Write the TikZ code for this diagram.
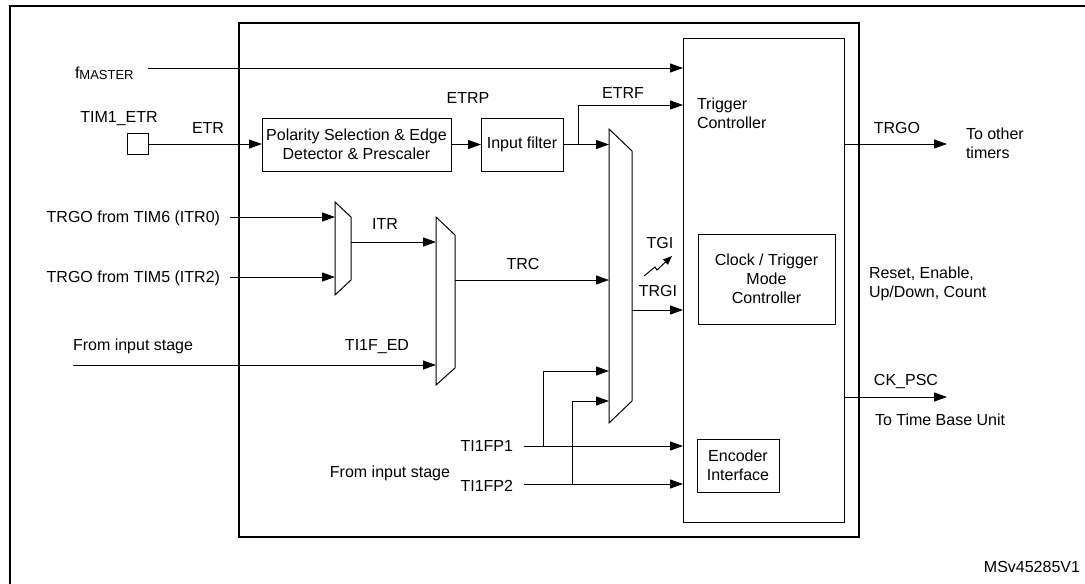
\documentclass[tikz,border=0pt]{standalone}
\usepackage{fontspec}
\setmainfont{Liberation Sans}
\usetikzlibrary{arrows.meta}
\begin{document}
\begin{tikzpicture}[x=1pt,y=-1pt,
  every node/.style={inner sep=0pt, outer sep=0pt, font=\fontsize{16}{19}\selectfont},
  blk/.style={draw, line width=1pt, anchor=north west, align=center},
  lbl/.style={text height=11.5pt, text depth=0pt},
  sig/.style={line width=1pt, -{Triangle[length=13pt,width=9pt]}},
  wire/.style={line width=1pt},
  mux/.style={line width=1pt, line join=miter}]
\useasboundingbox (0,0) rectangle (1085,584);
% frames
\draw[line width=2pt] (10,620) -- (10,6) -- (1120,6);
\draw[line width=1.2pt] (239,23) rectangle (859,537);
% blocks
\node[blk, minimum width=161pt, minimum height=484pt] (tc) at (683,38) {};
\node[anchor=west, align=left] (tctext) at (697,113) {Trigger\\Controller};
\node[blk, minimum width=189pt, minimum height=53pt] (poly) at (262,118) {Polarity Selection \& Edge\\Detector \& Prescaler};
\node[blk, minimum width=82pt, minimum height=53pt] (filt) at (481,118) {Input filter};
\node[blk, minimum width=137pt, minimum height=90pt] (ctm) at (698,234) {Clock / Trigger\\Mode\\Controller};
\node[blk, minimum width=82pt, minimum height=53pt] (enc) at (697,439) {Encoder\\Interface};
\node[draw, line width=1pt, minimum width=21pt, minimum height=21pt] (sq) at (137.5,144) {};
% muxes
\coordinate (m1a) at (335,202); \coordinate (m1b) at (351,217);
\coordinate (m1c) at (351,280); \coordinate (m1d) at (335,295);
\draw[mux] (m1a) -- (m1b) -- (m1c) -- (m1d) -- cycle;
\coordinate (m2a) at (436,217); \coordinate (m2b) at (455,235);
\coordinate (m2c) at (455,368); \coordinate (m2d) at (436,385);
\draw[mux] (m2a) -- (m2b) -- (m2c) -- (m2d) -- cycle;
\coordinate (m3a) at (609,129); \coordinate (m3b) at (632,151);
\coordinate (m3c) at (632,401); \coordinate (m3d) at (609,423);
\draw[mux] (m3a) -- (m3b) -- (m3c) -- (m3d) -- cycle;
% labels
\node[anchor=base west] (fm) at (75,78) {f\fontsize{13}{13}\selectfont\raisebox{-1pt}{MASTER}};
\node[lbl] (ltim1) at (119,117) {TIM1\_ETR};
\node[lbl] (letr) at (208,128) {ETR};
\node[lbl] (letrp) at (468,98) {ETRP};
\node[lbl] (letrf) at (623,93) {ETRF};
\node[lbl, anchor=east] (litr0) at (220,217) {TRGO from TIM6 (ITR0)};
\node[lbl, anchor=east] (litr2) at (220,277) {TRGO from TIM5 (ITR2)};
\node[lbl] (litr) at (385,224) {ITR};
\node[lbl] (ltrc) at (523,264) {TRC};
\node[lbl, anchor=west] (lfis1) at (73,345) {From input stage};
\node[lbl] (lti1fed) at (377,345) {TI1F\_ED};
\node[lbl] (ltgi) at (660,243) {TGI};
\node[lbl] (ltrgi) at (658,291) {TRGI};
\node[lbl, anchor=east] (lfp1) at (513,446) {TI1FP1};
\node[lbl, anchor=east] (lfp2) at (513,486) {TI1FP2};
\node[lbl, anchor=east] (lfis2) at (450,472) {From input stage};
\node[lbl] (ltrgo) at (897,128) {TRGO};
\node[anchor=west, align=left] (lother) at (966,143.5) {To other\\timers};
\node[anchor=west, align=left] (lreset) at (869,284) {Reset, Enable,\\Up/Down, Count};
\node[lbl] (lckpsc) at (906,380) {CK\_PSC};
\node[lbl, anchor=west] (ltbu) at (875,420) {To Time Base Unit};
\node[lbl, anchor=east] (lms) at (1080,567) {MSv45285V1};
% connector points
\coordinate (fms) at (148,68);
\coordinate (etrfb) at (578,144);
\coordinate (etrfe) at (683,105);
\coordinate (i0s) at (230,217);
\coordinate (i2s) at (230,277);
\coordinate (itrs) at (351,242);
\coordinate (eds) at (73,365);
\coordinate (trcs) at (455,280);
\coordinate (trgis) at (632,310);
\coordinate (fp1s) at (524,446);
\coordinate (fp2s) at (524,484);
\coordinate (fp1b) at (543,446);
\coordinate (fp2b) at (572,484);
\coordinate (fp1e) at (609,371);
\coordinate (fp2e) at (609,401);
\coordinate (trgos) at (844,144);
\coordinate (trgoe) at (947,144);
\coordinate (cks) at (844,397);
\coordinate (cke) at (947,397);
\coordinate (tgis) at (644,276);
\coordinate (tgie) at (672,256);
% connectors
\draw[sig] (fms) -- (fms -| tc.west);
\draw[sig] (sq.east) -- (sq.east -| poly.west);
\draw[sig] (poly.east |- filt.west) -- (filt.west);
\draw[sig] (filt.east) -- (filt.east -| m3a);
\draw[sig] (etrfb) |- (etrfe);
\draw[sig] (i0s) -- (i0s -| m1a);
\draw[sig] (i2s) -- (i2s -| m1a);
\draw[sig] (itrs) -- (itrs -| m2a);
\draw[sig] (eds) -- (eds -| m2a);
\draw[sig] (trcs) -- (trcs -| m3a);
\draw[sig] (trgis) -- (trgis -| tc.west);
\draw[sig] (fp1s) -- (fp1s -| tc.west);
\draw[sig] (fp2s) -- (fp2s -| tc.west);
\draw[sig] (fp1b) |- (fp1e);
\draw[sig] (fp2b) |- (fp2e);
\draw[sig] (trgos) -- (trgoe);
\draw[sig] (cks) -- (cke);
\draw[line width=1pt, -{Triangle[length=9pt,width=7pt]}] (tgis) -- (655,267) -- (657,270) -- (tgie);
\end{tikzpicture}
\end{document}
